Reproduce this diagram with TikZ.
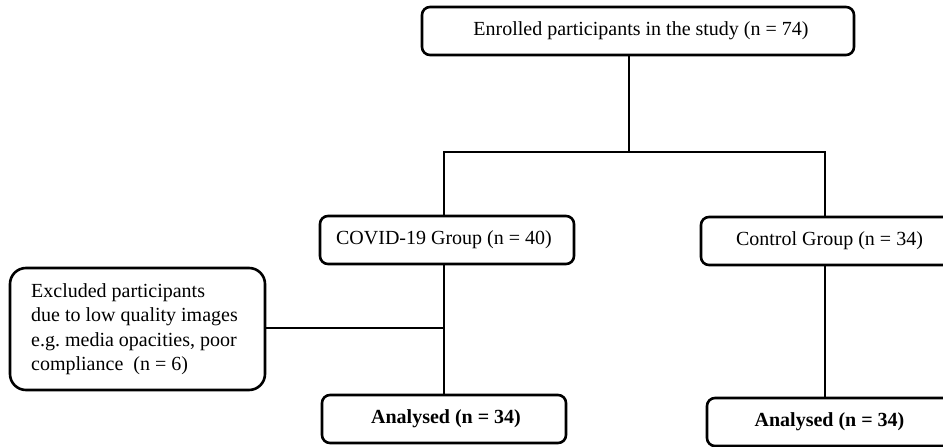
\documentclass[tikz,border=0pt]{standalone}
\usepackage{fontspec}
\setmainfont{Liberation Serif}
\frenchspacing
\begin{document}
\begin{tikzpicture}[x=1pt,y=-1pt,
  box/.style={draw=black,line width=2.6pt,rounded corners=8pt,inner sep=0pt,
    align=center,font=\fontsize{20}{24}\selectfont},
  conn/.style={draw=black,line width=1.8pt}]
\useasboundingbox (0,0) rectangle (943,447);
\fill[white] (0,0) rectangle (943,447);
\node[box,minimum width=432pt,minimum height=48pt] (top) at (638,31) {\hspace*{6pt}Enrolled participants in the study (n = 74)};
\node[box,minimum width=254pt,minimum height=48pt] (covid) at (447,240) {\hspace*{-6pt}COVID-19 Group (n = 40)};
\node[box,minimum width=259pt,minimum height=48pt] (control) at (830.5,241) {\hspace*{-2pt}Control Group (n = 34)};
\node[box,rounded corners=16pt,minimum width=255pt,minimum height=122pt,align=left] (excl) at (137.5,329)
  {\hspace*{-6pt}\raisebox{-4pt}{\begin{tabular}{@{}l@{}}Excluded participants\\[0.5pt]due to low quality images\\[0.5pt]e.g. media opacities, poor\\[0.5pt]compliance\ \ (n = 6)\end{tabular}}};
\node[box,minimum width=244pt,minimum height=48pt,font=\fontsize{20}{24}\selectfont\bfseries] (anL) at (444,419) {\hspace*{4pt}Analysed (n = 34)};
\node[box,minimum width=253pt,minimum height=48pt,font=\fontsize{20}{24}\selectfont\bfseries] (anR) at (833.5,422) {\hspace*{-8pt}Analysed (n = 34)};
\coordinate (j) at (629,152);
\coordinate (jl) at (444,152);
\coordinate (jr) at (825,152);
\coordinate (je) at (444,328);
\draw[conn] (top.south -| j) -- (j);
\draw[conn] (covid.north -| jl) -- (jl) -- (jr) -- (control.north -| jr);
\draw[conn] (covid.south -| jl) -- (anL.north -| jl);
\draw[conn] (excl.east |- je) -- (je);
\draw[conn] (control.south -| jr) -- (anR.north -| jr);
\end{tikzpicture}
\end{document}
